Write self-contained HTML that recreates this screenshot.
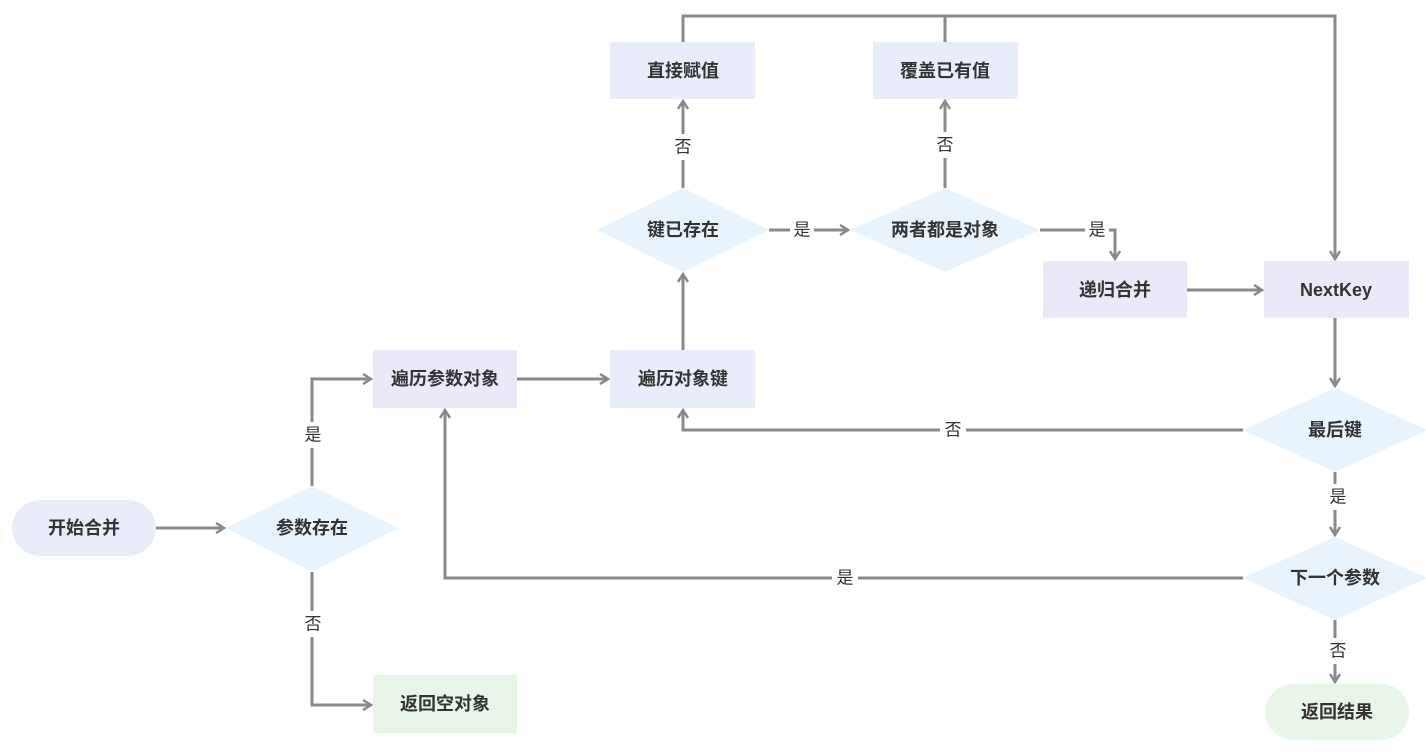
<!DOCTYPE html>
<html><head><meta charset="utf-8"><style>
html,body{margin:0;padding:0;background:#fff}
svg{display:block}
text{font-family:"Liberation Sans","Noto Sans CJK SC",sans-serif}
.n{font-size:18px;font-weight:bold;fill:#333;text-anchor:middle;dominant-baseline:central}
.l{font-size:17px;fill:#333;text-anchor:middle;dominant-baseline:central}
.e{fill:none;stroke:#8a8a8a;stroke-width:3}
.bg{fill:#fff}
</style></head><body>
<svg width="1426" height="752" viewBox="0 0 1426 752">
<defs><marker id="a" markerWidth="12" markerHeight="12" refX="10" refY="6" orient="auto" markerUnits="userSpaceOnUse"><path d="M2,1 L10,6 L2,11" fill="none" stroke="#8a8a8a" stroke-width="2.5"/></marker></defs>
<!-- nodes -->
<rect x="12" y="500" width="144" height="56" rx="28" fill="#e8edf9"/>
<polygon points="226,528 312,486 398,528 312,572" fill="#e8f3fb"/>
<rect x="373" y="675" width="144" height="58" fill="#eaf5ea"/>
<rect x="373" y="350" width="144" height="58" fill="#ede8f7"/>
<rect x="610" y="350" width="145" height="58" fill="#e8edf9"/>
<polygon points="597,230 683,188 769,230 683,272" fill="#e8f3fb"/>
<rect x="610" y="42" width="145" height="57" fill="#e8edf9"/>
<polygon points="850,230 945,188 1040,230 945,272" fill="#e8f3fb"/>
<rect x="873" y="42" width="145" height="57" fill="#e8edf9"/>
<rect x="1043" y="261" width="144" height="57" fill="#ede8f7"/>
<rect x="1264" y="261" width="145" height="57" fill="#ede8f7"/>
<polygon points="1243,430 1335,388 1427,430 1335,472" fill="#e8f3fb"/>
<polygon points="1243,578 1335,537 1427,578 1335,620" fill="#e8f3fb"/>
<rect x="1265" y="684" width="144" height="56" rx="28" fill="#eaf5ea"/>
<!-- edges -->
<path class="e" d="M156,528 H224" marker-end="url(#a)"/>
<path class="e" d="M312,486 V379 H371" marker-end="url(#a)"/>
<path class="e" d="M312,572 V705 H371" marker-end="url(#a)"/>
<path class="e" d="M517,379 H608" marker-end="url(#a)"/>
<path class="e" d="M683,350 V274" marker-end="url(#a)"/>
<path class="e" d="M683,188 V101" marker-end="url(#a)"/>
<path class="e" d="M769,230 H848" marker-end="url(#a)"/>
<path class="e" d="M945,188 V101" marker-end="url(#a)"/>
<path class="e" d="M1040,230 H1115 V259" marker-end="url(#a)"/>
<path class="e" d="M683,42 V16 H1335 V259" marker-end="url(#a)"/>
<path class="e" d="M945,42 V16"/>
<path class="e" d="M1187,290 H1262" marker-end="url(#a)"/>
<path class="e" d="M1335,318 V386" marker-end="url(#a)"/>
<path class="e" d="M1243,430 H683 V410" marker-end="url(#a)"/>
<path class="e" d="M1335,472 V535" marker-end="url(#a)"/>
<path class="e" d="M1243,578 H445 V410" marker-end="url(#a)"/>
<path class="e" d="M1335,620 V682" marker-end="url(#a)"/>
<!-- edge labels -->
<rect class="bg" x="300" y="422" width="26" height="26"/><text class="l" x="313" y="435">是</text>
<rect class="bg" x="300" y="611" width="26" height="26"/><text class="l" x="313" y="624">否</text>
<rect class="bg" x="670" y="134" width="26" height="26"/><text class="l" x="683" y="147">否</text>
<rect class="bg" x="932" y="132" width="26" height="26"/><text class="l" x="945" y="145">否</text>
<rect class="bg" x="790" y="219" width="24" height="22"/><text class="l" x="802" y="230">是</text>
<rect class="bg" x="1085" y="219" width="24" height="22"/><text class="l" x="1097" y="230">是</text>
<rect class="bg" x="940" y="419" width="26" height="22"/><text class="l" x="953" y="430">否</text>
<rect class="bg" x="1325" y="484" width="26" height="26"/><text class="l" x="1338" y="497">是</text>
<rect class="bg" x="832" y="567" width="26" height="22"/><text class="l" x="845" y="578">是</text>
<rect class="bg" x="1325" y="638" width="26" height="26"/><text class="l" x="1338" y="651">否</text>
<!-- node labels -->
<text class="n" x="84" y="528">开始合并</text>
<text class="n" x="312" y="528">参数存在</text>
<text class="n" x="445" y="704">返回空对象</text>
<text class="n" x="445" y="379">遍历参数对象</text>
<text class="n" x="683" y="379">遍历对象键</text>
<text class="n" x="683" y="230">键已存在</text>
<text class="n" x="683" y="71">直接赋值</text>
<text class="n" x="945" y="230">两者都是对象</text>
<text class="n" x="945" y="71">覆盖已有值</text>
<text class="n" x="1115" y="290">递归合并</text>
<text class="n" x="1336" y="290">NextKey</text>
<text class="n" x="1335" y="430">最后键</text>
<text class="n" x="1335" y="578">下一个参数</text>
<text class="n" x="1337" y="712">返回结果</text>
</svg>
</body></html>
